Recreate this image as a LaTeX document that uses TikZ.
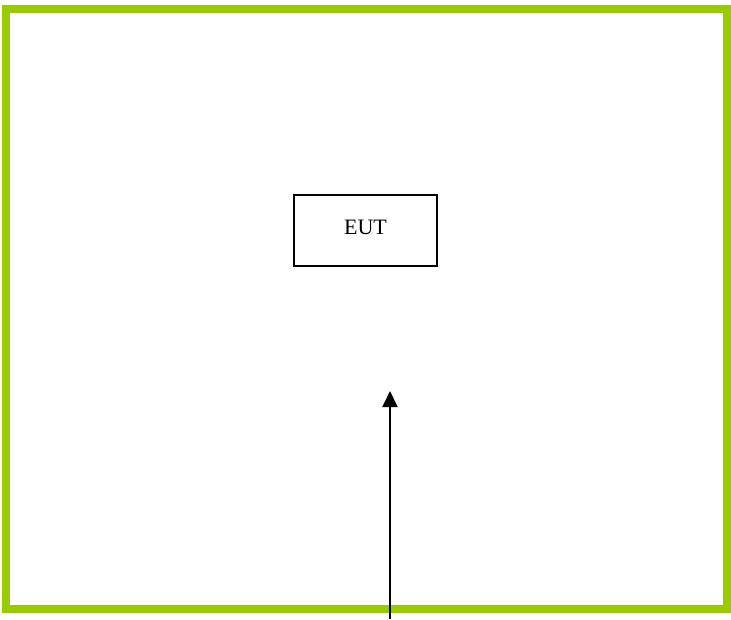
\documentclass[tikz,border=0pt]{standalone}
\usepackage{fontspec}
\setmainfont{Liberation Serif}
\usepackage{tikz}
\usetikzlibrary{arrows.meta,positioning}
\definecolor{framegreen}{HTML}{99CC00}

\begin{document}
\begin{tikzpicture}[x=1pt,y=-1pt,>={Triangle[length=16pt,width=15pt]},
   every node/.style={font=\fontsize{22}{24}\selectfont}]
  \useasboundingbox (0,0) rectangle (731,619);
  \draw[framegreen,line width=8.5pt] (6,9) rectangle (727,609);
  \node (eut) [draw,line width=2pt,minimum width=143pt,minimum height=71pt,
    inner sep=0pt,text depth=7pt] at (365.5,230.5) {EUT};
  \coordinate (src) at (390,619);
  \coordinate (tip) at (390,391);
  \draw[->,line width=2pt] (src) -- (tip);
\end{tikzpicture}
\end{document}
